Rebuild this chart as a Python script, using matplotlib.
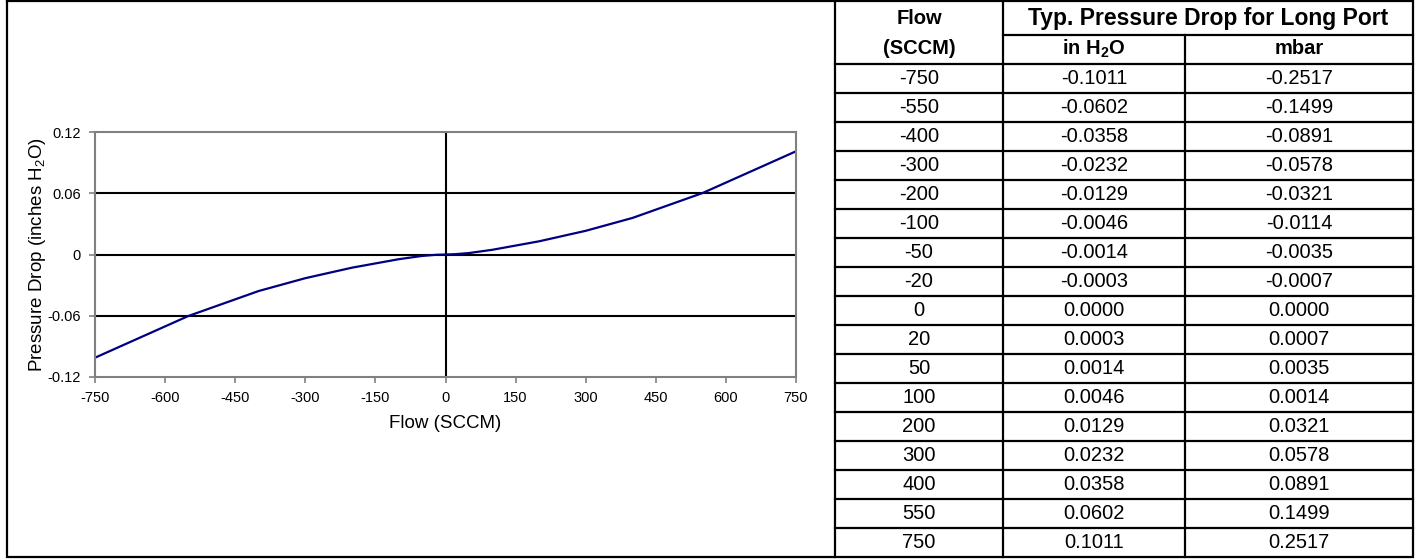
import matplotlib
matplotlib.use('Agg')
import matplotlib.pyplot as plt

plt.rcParams['font.family'] = ['Liberation Sans', 'DejaVu Sans']
plt.rcParams['mathtext.fontset'] = 'custom'
plt.rcParams['mathtext.rm'] = 'Liberation Sans'
plt.rcParams['mathtext.bf'] = 'Liberation Sans:bold'

# Data (from the table)
flow = [-750, -550, -400, -300, -200, -100, -50, -20, 0, 20, 50, 100, 200, 300, 400, 550, 750]
in_h2o = ['-0.1011', '-0.0602', '-0.0358', '-0.0232', '-0.0129', '-0.0046', '-0.0014', '-0.0003',
          '0.0000', '0.0003', '0.0014', '0.0046', '0.0129', '0.0232', '0.0358', '0.0602', '0.1011']
mbar = ['-0.2517', '-0.1499', '-0.0891', '-0.0578', '-0.0321', '-0.0114', '-0.0035', '-0.0007',
        '0.0000', '0.0007', '0.0035', '0.0014', '0.0321', '0.0578', '0.0891', '0.1499', '0.2517']
xticks = [-750, -600, -450, -300, -150, 0, 150, 300, 450, 600, 750]
yticks = [-0.12, -0.06, 0, 0.06, 0.12]
ytick_labels = ['-0.12', '-0.06', '0', '0.06', '0.12']

W, H = 1417, 559
fig = plt.figure(figsize=(W / 100, H / 100), dpi=100)

# Chart
ax = fig.add_axes([95 / W, 1 - 377 / H, (796 - 95) / W, (377 - 132) / H])
ax.plot(flow, [float(v) for v in in_h2o], color='#000080', lw=1.6, zorder=3)
for y in yticks[1:-1]:
  ax.axhline(y, color='black', lw=1.5, zorder=2)
ax.axvline(0, color='black', lw=1.5, zorder=2)
ax.set_xlim(-750, 750)
ax.set_ylim(-0.12, 0.12)
ax.set_xticks(xticks)
ax.set_xticklabels([str(t) for t in xticks])
ax.set_yticks(yticks)
ax.set_yticklabels(ytick_labels)
for s in ax.spines.values():
  s.set_color('#808080')
  s.set_linewidth(1.5)
  s.set_zorder(4)
ax.tick_params(direction='out', length=4, width=1.2, color='#808080', labelsize=10.5, pad=6)
ax.set_xlabel('Flow (SCCM)', fontsize=13.5, labelpad=7)
ax.set_ylabel('Pressure Drop (inches H$_2$O)', fontsize=13.5, labelpad=0)

# Overlay for borders and table
ov = fig.add_axes([0, 0, 1, 1])
ov.set_xlim(0, W)
ov.set_ylim(H, 0)
ov.axis('off')

lw = 1.6
# outer frame
ov.plot([7, 1413, 1413, 7, 7], [1, 1, 557, 557, 1], color='black', lw=lw, solid_joinstyle='miter')
cols = [835, 1003, 1185, 1413]
sub_top = 35
data_top = 64
nrows = len(flow)
rh = (557 - data_top) / nrows
ov.plot([cols[0], cols[0]], [1, 557], color='black', lw=lw)
ov.plot([cols[1], cols[1]], [1, 557], color='black', lw=lw)
ov.plot([cols[2], cols[2]], [sub_top, 557], color='black', lw=lw)
# header lines
ov.plot([cols[1], cols[3]], [sub_top, sub_top], color='black', lw=lw)
ov.plot([cols[0], cols[3]], [data_top, data_top], color='black', lw=lw)
for i in range(1, nrows):
  y = data_top + i * rh
  ov.plot([cols[0], cols[3]], [y, y], color='black', lw=lw)

fs = 14.5
cx = [(cols[i] + cols[i + 1]) / 2 for i in range(3)]
ov.text(cx[0], 19, 'Flow', ha='center', va='center', fontsize=fs, fontweight='bold')
ov.text(cx[0], 49, '(SCCM)', ha='center', va='center', fontsize=fs, fontweight='bold')
ov.text((cols[1] + cols[3]) / 2, 19, 'Typ. Pressure Drop for Long Port', ha='center', va='center',
        fontsize=16.5, fontweight='bold')
ov.text(cx[1], 49, r'in H$_{\mathbf{2}}$O', ha='center', va='center', fontsize=fs, fontweight='bold')
ov.text(cx[2], 49, 'mbar', ha='center', va='center', fontsize=fs, fontweight='bold')
for i in range(nrows):
  y = data_top + (i + 0.5) * rh
  ov.text(cx[0], y, str(flow[i]), ha='center', va='center', fontsize=fs)
  ov.text(cx[1], y, in_h2o[i], ha='center', va='center', fontsize=fs)
  ov.text(cx[2], y, mbar[i], ha='center', va='center', fontsize=fs)

fig.savefig('out.png', dpi=100)
